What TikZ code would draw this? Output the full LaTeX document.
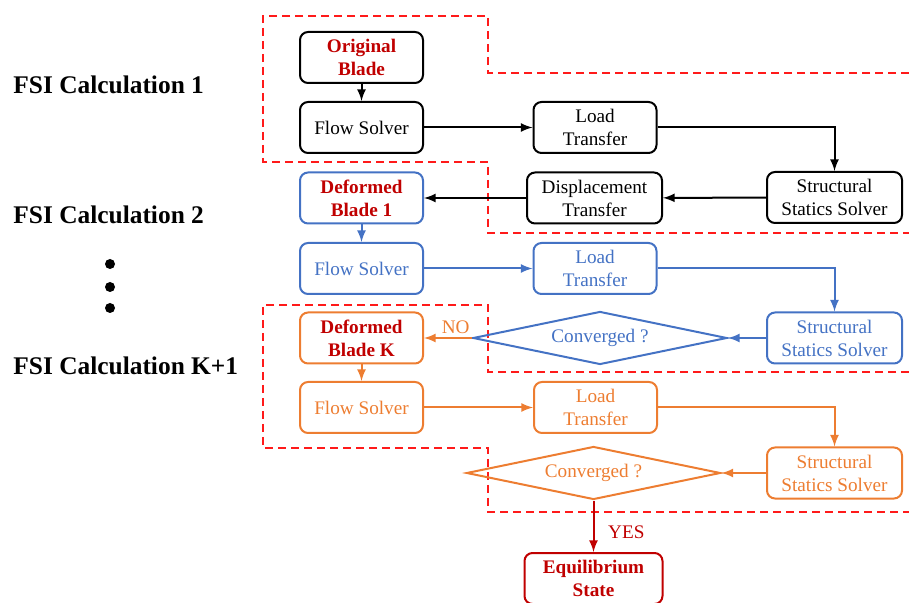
\documentclass[tikz,border=0pt]{standalone}
\usepackage{fontspec}
\setmainfont{Liberation Serif}
\usetikzlibrary{shapes.geometric}

\definecolor{fsiblue}{HTML}{4472C4}
\definecolor{fsiorange}{HTML}{ED7D31}
\definecolor{fsidark}{HTML}{C00000}
\definecolor{fsired}{HTML}{FF1A1A}

\tikzset{
  box/.style={draw, rounded corners=4pt, minimum width=61.5pt, minimum height=25.5pt, inner sep=0pt, align=center, line width=1pt, font=\fontsize{9.6}{11.5}\selectfont},
  wbox/.style={box, minimum width=67.5pt},
  check/.style={draw, diamond, aspect=5, inner sep=0pt, minimum width=127pt, minimum height=26.5pt, line width=1pt, font=\fontsize{9.6}{11.5}\selectfont},
  stage/.style={anchor=west, inner sep=0pt, font=\fontsize{12.7}{15}\selectfont\bfseries},
  region/.style={fsired, line width=1pt, dash pattern=on 4pt off 2.5pt},
  link/.style={->, >=latex, line width=1pt}
}

\begin{document}
\begin{tikzpicture}[x=0.5pt, y=-0.5pt]
\useasboundingbox (0,0) rectangle (909,603);
% dashed regions
\draw[region] (909,73) -- (488,73) -- (488,16) -- (263,16) -- (263,162) -- (488,162) -- (488,233) -- (909,233);
\draw[region] (909,372) -- (488,372) -- (488,305) -- (263,305) -- (263,448) -- (488,448) -- (488,512) -- (909,512);
% stage labels
\node[stage] (lab1) at (13,85) {FSI Calculation 1};
\node[stage] (lab2) at (13,215) {FSI Calculation 2};
\node[stage] (labK) at (13,366) {FSI Calculation K+1};
\node[circle, fill, inner sep=0pt, minimum size=5pt] (dot1) at (110,264) {};
\node[circle, fill, inner sep=0pt, minimum size=5pt] (dot2) at (110,287) {};
\node[circle, fill, inner sep=0pt, minimum size=5pt] (dot3) at (110,308) {};
% calculation 1
\node[box, text=fsidark, font=\fontsize{9.6}{11.5}\selectfont\bfseries] (orig) at (361.5,57.5) {Original\\Blade};
\node[box] (flow1) at (361.5,127.5) {Flow Solver};
\node[box] (load1) at (595,127.5) {Load\\Transfer};
\node[wbox] (struct1) at (834.5,197.5) {Structural\\Statics Solver};
\node[wbox] (disp) at (594.5,198) {Displacement\\Transfer};
% calculation 2
\node[box, draw=fsiblue, text=fsidark, font=\fontsize{9.6}{11.5}\selectfont\bfseries] (def1) at (361.5,198) {Deformed\\Blade 1};
\node[box, fsiblue] (flow2) at (361.5,268.5) {Flow Solver};
\node[box, fsiblue] (load2) at (595,268.5) {Load\\Transfer};
\node[wbox, fsiblue] (struct2) at (834.5,338) {Structural\\Statics Solver};
\node[check, fsiblue] (conv1) at (600,338) {Converged ?};
% calculation K+1
\node[box, draw=fsiorange, text=fsidark, font=\fontsize{9.6}{11.5}\selectfont\bfseries] (defK) at (361.5,338) {Deformed\\Blade K};
\node[box, fsiorange] (flowK) at (361.5,407.5) {Flow Solver};
\node[box, fsiorange] (loadK) at (595.5,407.5) {Load\\Transfer};
\node[wbox, fsiorange] (structK) at (834.5,473) {Structural\\Statics Solver};
\node[check, fsiorange] (convK) at (593.5,473) {Converged ?};
\node[wbox, minimum width=69pt, fsidark, font=\fontsize{9.6}{11.5}\selectfont\bfseries] (equil) at (593.5,578.5) {Equilibrium\\State};
% Arrows
\draw[link] (orig) -- (flow1);
\draw[link] (flow1) -- (load1);
\draw[link] (load1.east) -| (struct1.north);
\draw[link] (struct1) -- (disp);
\draw[link] (disp) -- (def1);
\draw[link, fsiblue] (def1) -- (flow2);
\draw[link, fsiblue] (flow2) -- (load2);
\draw[link, fsiblue] (load2.east) -| (struct2.north);
\draw[link, fsiblue] (struct2) -- (conv1.east);
\draw[link, fsiorange] (conv1.west) -- node[above, pos=0.34, inner sep=1.5pt, font=\fontsize{9.6}{11.5}\selectfont] {NO} (defK.east);
\draw[link, fsiorange] (defK) -- (flowK);
\draw[link, fsiorange] (flowK) -- (loadK);
\draw[link, fsiorange] (loadK.east) -| (structK.north);
\draw[link, fsiorange] (structK) -- (convK.east);
\draw[link, fsidark] (convK.south) -- node[right, pos=0.62, xshift=3.5pt, font=\fontsize{9.6}{11.5}\selectfont] {YES} (equil.north);
\end{tikzpicture}
\end{document}
